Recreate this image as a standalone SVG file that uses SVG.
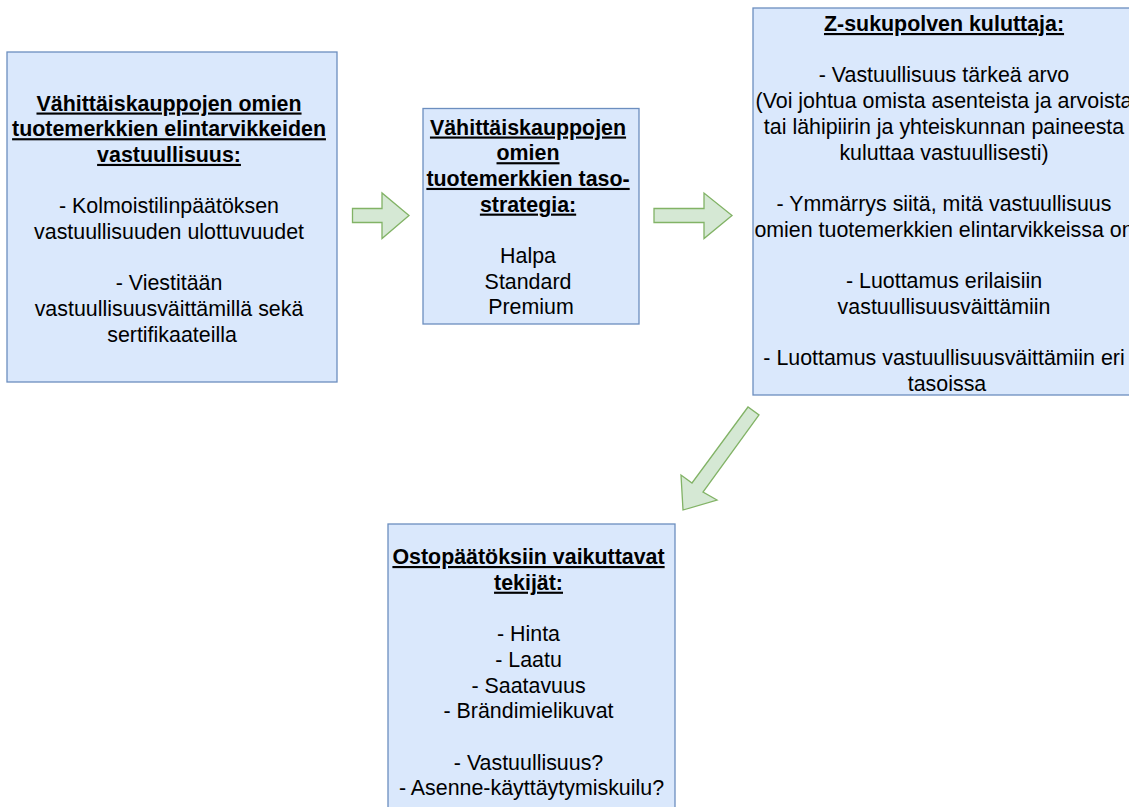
<svg xmlns="http://www.w3.org/2000/svg" width="1129" height="807" viewBox="0 0 1129 807">
  <style>
    .box { fill: #dae8fc; stroke: #6c8ebf; stroke-width: 1.3; }
    .arrow { fill: #d5e8d4; stroke: #82b366; stroke-width: 1.3; stroke-linejoin: miter; }
    text { font-family: "Liberation Sans", Arial, sans-serif; font-size: 21.4px; fill: #000; text-anchor: middle; }
    .t { font-weight: bold; text-decoration: underline; }
  </style>
  <rect width="1129" height="807" fill="#ffffff"/>

  <g id="connectors">
    <polygon class="arrow" points="352.5,208.5 382,208.5 382,193 409,215.5 382,238.5 382,222.5 352.5,222.5"/>
    <polygon class="arrow" points="654,208.5 704,208.5 704,193 732,215.5 704,238.5 704,222.5 654,222.5"/>
    <polygon class="arrow" points="748,407 692,483 681,475 683,510 717,500 703,492 759,415"/>
  </g>

  <g id="node1">
    <rect class="box" x="7" y="52" width="330" height="330"/>
    <text x="172">
      <tspan class="t" x="172" y="110.5">Vähittäiskauppojen omien</tspan>
      <tspan class="t" x="172" y="136.2">tuotemerkkien elintarvikkeiden</tspan>
      <tspan class="t" x="172" y="161.9">vastuullisuus:</tspan>
      <tspan x="172" y="213.3">- Kolmoistilinpäätöksen</tspan>
      <tspan x="172" y="239">vastuullisuuden ulottuvuudet</tspan>
      <tspan x="172" y="290.4">- Viestitään</tspan>
      <tspan x="172" y="316.1">vastuullisuusväittämillä sekä</tspan>
      <tspan x="172" y="341.8">sertifikaateilla</tspan>
    </text>
  </g>

  <g id="node2">
    <rect class="box" x="423" y="108.5" width="216" height="215.5"/>
    <text x="531">
      <tspan class="t" x="531" y="134.5">Vähittäiskauppojen</tspan>
      <tspan class="t" x="531" y="160.2">omien</tspan>
      <tspan class="t" x="531" y="185.9">tuotemerkkien taso-</tspan>
      <tspan class="t" x="531" y="211.6">strategia:</tspan>
      <tspan x="531" y="263">Halpa</tspan>
      <tspan x="531" y="288.7">Standard</tspan>
      <tspan x="531" y="314.4">Premium</tspan>
    </text>
  </g>

  <g id="node3">
    <rect class="box" x="753" y="8" width="388" height="387"/>
    <text x="947">
      <tspan class="t" x="947" y="31">Z-sukupolven kuluttaja:</tspan>
      <tspan x="947" y="82.4">- Vastuullisuus tärkeä arvo</tspan>
      <tspan x="947" y="108.1">(Voi johtua omista asenteista ja arvoista</tspan>
      <tspan x="947" y="133.8">tai lähipiirin ja yhteiskunnan paineesta</tspan>
      <tspan x="947" y="159.5">kuluttaa vastuullisesti)</tspan>
      <tspan x="947" y="210.9">- Ymmärrys siitä, mitä vastuullisuus</tspan>
      <tspan x="947" y="236.6">omien tuotemerkkien elintarvikkeissa on</tspan>
      <tspan x="947" y="288">- Luottamus erilaisiin</tspan>
      <tspan x="947" y="313.7">vastuullisuusväittämiin</tspan>
      <tspan x="947" y="365.1">- Luottamus vastuullisuusväittämiin eri</tspan>
      <tspan x="947" y="390.8">tasoissa</tspan>
    </text>
  </g>

  <g id="node4">
    <rect class="box" x="388" y="524" width="287" height="300"/>
    <text x="531.5">
      <tspan class="t" x="531.5" y="564">Ostopäätöksiin vaikuttavat</tspan>
      <tspan class="t" x="531.5" y="589.7">tekijät:</tspan>
      <tspan x="531.5" y="641.1">- Hinta</tspan>
      <tspan x="531.5" y="666.8">- Laatu</tspan>
      <tspan x="531.5" y="692.5">- Saatavuus</tspan>
      <tspan x="531.5" y="718.2">- Brändimielikuvat</tspan>
      <tspan x="531.5" y="769.6">- Vastuullisuus?</tspan>
      <tspan x="531.5" y="795.3">- Asenne-käyttäytymiskuilu?</tspan>
    </text>
  </g>
</svg>
